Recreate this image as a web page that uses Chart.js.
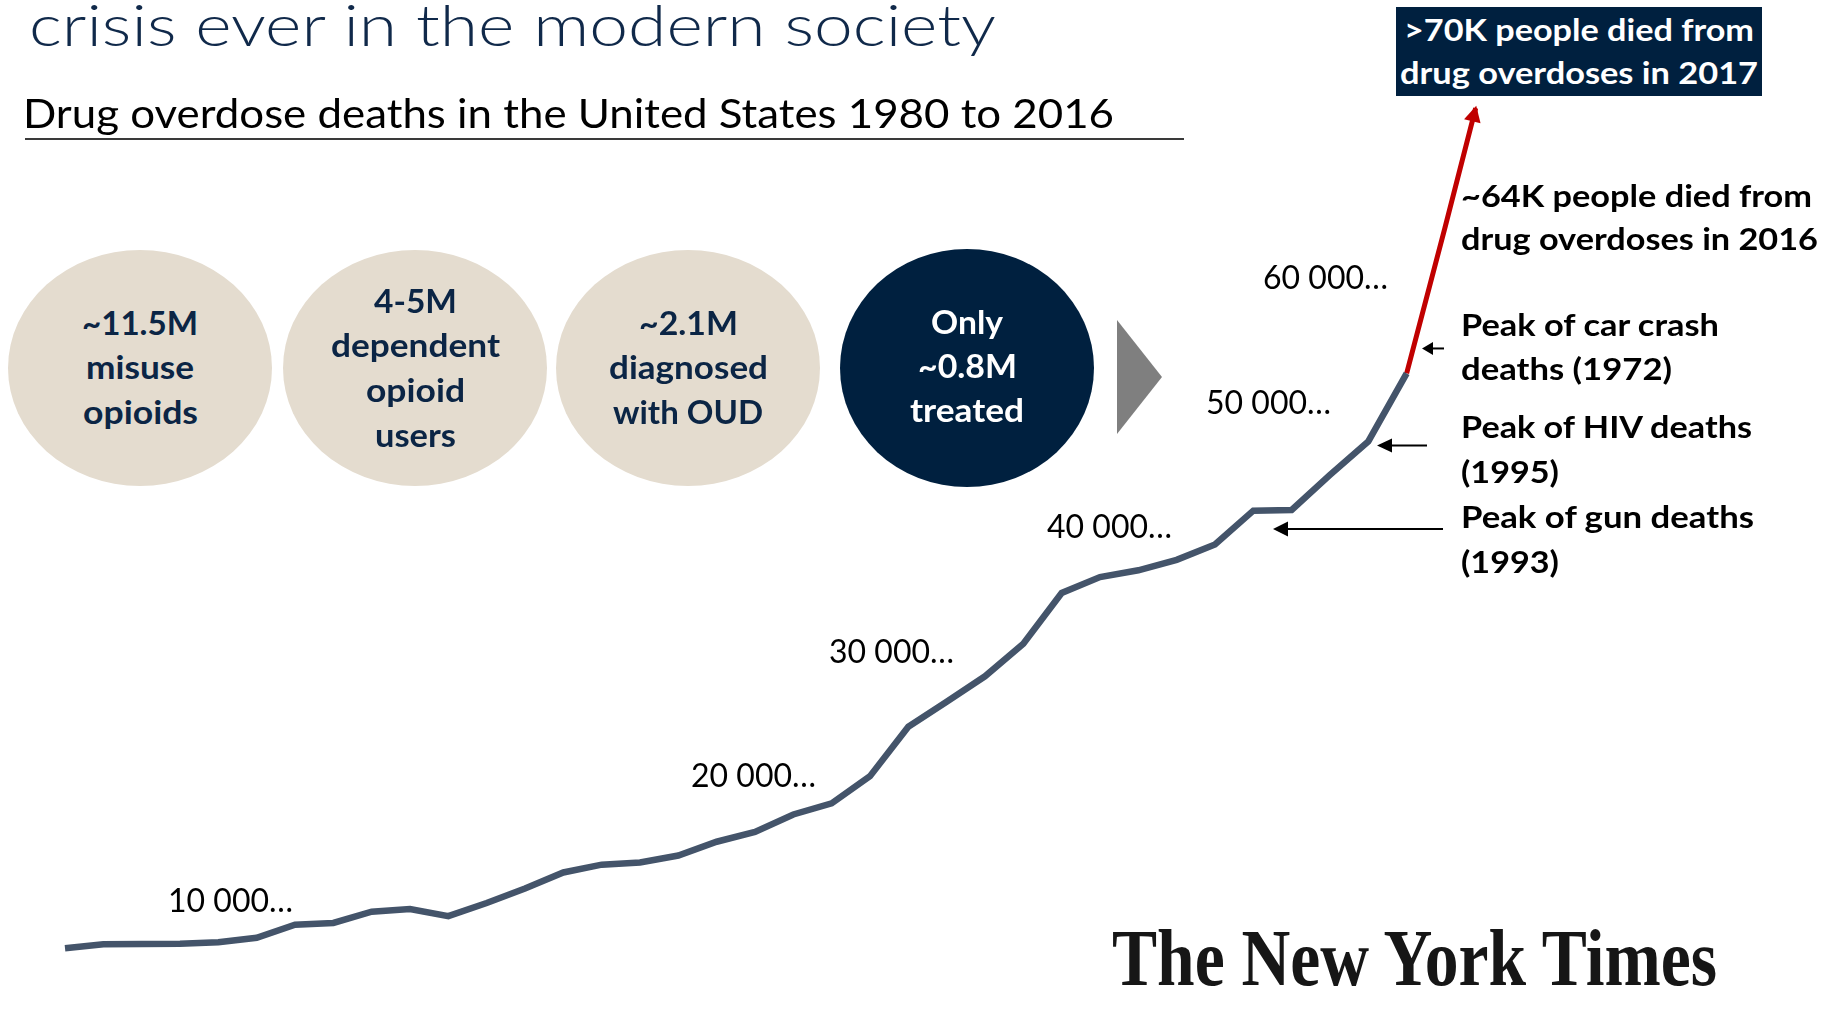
<!DOCTYPE html>
<html>
<head>
<meta charset="utf-8">
<script src="https://cdn.jsdelivr.net/npm/chart.js@4.4.1/dist/chart.umd.min.js"></script>
<style>
  html, body { margin: 0; padding: 0; background: #fff; }
  #page { position: relative; width: 1825px; height: 1009px; overflow: hidden; font-family: Lato, "Open Sans", sans-serif; }
  #chart { position: absolute; left: 0; top: 0; }
  .txt { position: absolute; white-space: nowrap; line-height: 1.2; transform-origin: 0 0; }
  .shape { position: absolute; }
</style>
</head>
<body>
<div id="page">
  <canvas id="chart" width="1825" height="1009"></canvas>
</div>
<script>
// Drug overdose deaths in the US
const years = [1980, 1981, 1982, 1983, 1984, 1985, 1986, 1987, 1988, 1989,
               1990, 1991, 1992, 1993, 1994, 1995, 1996, 1997, 1998, 1999,
               2000, 2001, 2002, 2003, 2004, 2005, 2006, 2007, 2008, 2009,
               2010, 2011, 2012, 2013, 2014, 2015];
const deaths = [6120, 6440, 6470, 6480, 6600, 6970, 8020, 8160, 9060, 9280,
                8700, 9760, 10920, 12210, 12840, 13020, 13570, 14680, 15460, 16870,
                17760, 19940, 23920, 25930, 27970, 30580, 34660, 35940, 36480, 37320,
                38550, 41270, 41330, 44140, 46830, 52300];

// red segment: 2015 -> 2016 and on to the arrow tip (>70K in 2017)
const recentYears = [2015, 2016, 2016.8];
const recentDeaths = [52300, 64000, 73600];

const tickValues = [10000, 20000, 30000, 40000, 50000, 60000];
const tickLabels = ['10 000…', '20 000…', '30 000…', '40 000…', '50 000…', '60 000…'];

// reference peaks pointed at by the black arrows
const peakValues = [54300, 46500, 39800];
const peakLabels = [['Peak of car crash', 'deaths (1972)'],
                    ['Peak of HIV deaths', '(1995)'],
                    ['Peak of gun deaths', '(1993)']];

const funnelLabels = [['~11.5M', 'misuse', 'opioids'],
                      ['4-5M', 'dependent', 'opioid', 'users'],
                      ['~2.1M', 'diagnosed', 'with OUD'],
                      ['Only', '~0.8M', 'treated']];

// ---- layout (pixels) ----
const PX_PER_YEAR = 38.333;
const X_MIN = 1980 - 65 / PX_PER_YEAR;
const X_MAX = X_MIN + 1825 / PX_PER_YEAR;
const PX_PER_DEATH = 0.01245;
const Y_MAX = 1024.5 / PX_PER_DEATH;
const Y_MIN = Y_MAX - 1009 / PX_PER_DEATH;

const tickLeft = [168, 691, 829, 1047, 1206, 1263];
const TICK_W = 125;

const arrowTip = [1422, 1377, 1273];
const arrowTail = [1444, 1427, 1443];
const arrowHead = [[11, 6.5], [15, 7], [15, 7.5]];

const page = document.getElementById('page');

function shape(css) {
  const d = document.createElement('div');
  d.className = 'shape';
  Object.assign(d.style, css);
  page.appendChild(d);
  return d;
}

// place a line of text by its left edge, baseline and target width
function addText(text, left, baseline, w, size, weight, color, family) {
  const d = document.createElement('div');
  d.className = 'txt';
  d.textContent = text;
  d.style.fontSize = size + 'px';
  d.style.fontWeight = weight;
  d.style.color = color;
  if (family) d.style.fontFamily = family;
  d.style.left = left + 'px';
  d.style.top = (baseline - 0.987 * size) + 'px';
  page.appendChild(d);
  const nat = d.getBoundingClientRect().width;
  if (w && nat) d.style.transform = 'scaleX(' + (w / nat).toFixed(4) + ')';
  return d;
}

// headings
addText('crisis ever in the modern society', 29, 46, 967, 57, 300, '#10294A');
addText('Drug overdose deaths in the United States 1980 to 2016', 23, 128, 1091, 41, 400, '#000');
shape({ left: '25px', top: '138px', width: '1159px', height: '1.5px', background: '#3a3a3a' });

// funnel ellipses
const bubbles = [
  { cx: 140, bg: '#E4DCCF', fg: '#0B2545', base: [336, 380, 425], w: [116, 108, 115] },
  { cx: 415, bg: '#E4DCCF', fg: '#0B2545', base: [313.5, 358, 403, 447.5], w: [83, 169, 99, 81] },
  { cx: 688, bg: '#E4DCCF', fg: '#0B2545', base: [336, 380, 425], w: [99, 159, 150] },
  { cx: 967, bg: '#00203F', fg: '#FFFFFF', base: [334.5, 379, 423], w: [72, 99, 114] }
];
bubbles.forEach((b, i) => {
  const rx = i === 3 ? 127 : 132, ry = i === 3 ? 119 : 118;
  shape({ left: (b.cx - rx) + 'px', top: (368 - ry) + 'px', width: 2 * rx + 'px', height: 2 * ry + 'px',
          borderRadius: '50%', background: b.bg });
  funnelLabels[i].forEach((t, j) => {
    addText(t, b.cx - b.w[j] / 2, b.base[j], b.w[j], 33, 700, b.fg);
  });
});
shape({ left: '1117px', top: '320px', width: '45px', height: '114px', background: '#7F7F7F',
        clipPath: 'polygon(0 0, 100% 50%, 0 100%)' });

// top right call-out
shape({ left: '1395.5px', top: '7px', width: '366.5px', height: '88.5px', background: '#00203F' });
addText('>70K people died from', 1404, 41.5, 350, 31, 700, '#fff');
addText('drug overdoses in 2017', 1400, 85, 358, 31, 700, '#fff');
addText('~64K people died from', 1461, 208, 351, 31, 700, '#000');
addText('drug overdoses in 2016', 1461, 251, 357, 31, 700, '#000');

const peakBase = [[337, 381], [439, 483.5], [529, 574]];
const peakW = [[258, 211], [291, 98], [293, 98]];
peakLabels.forEach((lines, i) => {
  lines.forEach((t, j) => addText(t, 1461, peakBase[i][j], peakW[i][j], 31, 700, '#000'));
});

addText('The New York Times', 1111.5, 989, 605, 80, 700, '#161616', '"Liberation Serif", "DejaVu Serif", serif');

// ---- chart ----
const tickLabelPlugin = {
  id: 'tickLabels',
  afterDatasetsDraw(chart) {
    const { ctx, scales: { y } } = chart;
    ctx.save();
    ctx.font = '32px Lato, "Open Sans", sans-serif';
    ctx.fillStyle = '#000';
    ctx.textBaseline = 'alphabetic';
    tickValues.forEach((v, i) => {
      const py = y.getPixelForValue(v) + 11.7;
      const w = ctx.measureText(tickLabels[i]).width;
      ctx.save();
      ctx.translate(tickLeft[i], py);
      ctx.scale(TICK_W / w, 1);
      ctx.fillText(tickLabels[i], 0, 0);
      ctx.restore();
    });
    ctx.restore();
  }
};

const arrowPlugin = {
  id: 'arrows',
  afterDatasetsDraw(chart) {
    const { ctx, scales: { y } } = chart;
    ctx.save();
    // red arrow head at the end of the recent segment
    const pts = chart.getDatasetMeta(1).data;
    const a = pts[pts.length - 2], b = pts[pts.length - 1];
    const ang = Math.atan2(b.y - a.y, b.x - a.x);
    const tx = b.x + Math.cos(ang) * 2.5, ty = b.y + Math.sin(ang) * 2.5;
    ctx.translate(tx, ty);
    ctx.rotate(ang);
    ctx.fillStyle = '#C00000';
    ctx.beginPath();
    ctx.moveTo(0, 0);
    ctx.lineTo(-16, -8.5);
    ctx.lineTo(-16, 8.5);
    ctx.closePath();
    ctx.fill();
    ctx.setTransform(1, 0, 0, 1, 0, 0);

    // black arrows to the reference peaks
    ctx.fillStyle = '#000';
    ctx.strokeStyle = '#000';
    ctx.lineWidth = 2;
    peakValues.forEach((v, i) => {
      const py = y.getPixelForValue(v);
      const [hl, hw] = arrowHead[i];
      ctx.beginPath();
      ctx.moveTo(arrowTail[i], py);
      ctx.lineTo(arrowTip[i] + hl - 1, py);
      ctx.stroke();
      ctx.beginPath();
      ctx.moveTo(arrowTip[i], py);
      ctx.lineTo(arrowTip[i] + hl, py - hw);
      ctx.lineTo(arrowTip[i] + hl, py + hw);
      ctx.closePath();
      ctx.fill();
    });
    ctx.restore();
  }
};

new Chart(document.getElementById('chart').getContext('2d'), {
  type: 'line',
  data: {
    datasets: [
      {
        data: years.map((yr, i) => ({ x: yr, y: deaths[i] })),
        borderColor: '#44546A',
        borderWidth: 6.5,
        borderJoinStyle: 'miter',
        pointRadius: 0,
        tension: 0
      },
      {
        data: recentYears.map((yr, i) => ({ x: yr, y: recentDeaths[i] })),
        borderColor: '#C00000',
        borderWidth: 5,
        pointRadius: 0,
        tension: 0
      }
    ]
  },
  options: {
    responsive: false,
    animation: false,
    devicePixelRatio: 1,
    layout: { padding: 0 },
    plugins: { legend: { display: false }, tooltip: { enabled: false } },
    scales: {
      x: { type: 'linear', display: false, min: X_MIN, max: X_MAX },
      y: { type: 'linear', display: false, min: Y_MIN, max: Y_MAX }
    }
  },
  plugins: [tickLabelPlugin, arrowPlugin]
});
</script>
</body>
</html>
